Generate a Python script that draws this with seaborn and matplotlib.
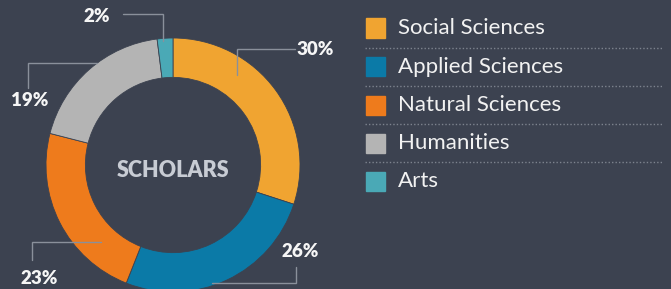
import matplotlib.pyplot as plt
import seaborn as sns

# chart data
categories = ["Social Sciences", "Applied Sciences", "Natural Sciences", "Humanities", "Arts"]
shares = [30, 26, 23, 19, 2]
colors = ["#f0a431", "#0b7aa7", "#ee7b1c", "#b4b4b4", "#4aa9b6"]
center_label = "SCHOLARS"

# leader layout in donut units: anchor -> elbow -> end, then label position
leaders = [
    ((0.50, 0.71), (0.50, 0.91), (0.96, 0.91), (1.12, 0.91)),
    ((0.31, -0.93), (0.97, -0.93), (0.97, -0.80), (1.00, -0.68)),
    ((-0.57, -0.61), (-1.11, -0.61), (-1.11, -0.75), (-1.05, -0.89)),
    ((-0.60, 0.80), (-1.14, 0.80), (-1.14, 0.61), (-1.13, 0.51)),
    ((-0.08, 0.98), (-0.08, 1.19), (-0.39, 1.19), (-0.60, 1.17)),
]

BG = "#3c4250"
LINE = "#8a909b"

sns.set_theme(style="dark", rc={"axes.facecolor": BG, "figure.facecolor": BG})
plt.rcParams["font.family"] = ["Lato", "DejaVu Sans"]

fig = plt.figure(figsize=(6.71, 2.89), dpi=100)
ax = fig.add_axes([0, 0, 1, 1])
ax.set_facecolor(BG)

wedges, _ = ax.pie(
    shares,
    colors=colors,
    startangle=90,
    counterclock=False,
    radius=1.0,
    wedgeprops=dict(width=0.31, edgecolor=BG, linewidth=0.6),
)

# figure is 671x289 px, donut centre at (173, 165) px, radius 127 px
ax.set_xlim(-173 / 127, (671 - 173) / 127)
ax.set_ylim(-124 / 127, 165 / 127)
ax.set_aspect("auto")
ax.axis("off")

ax.text(0, -0.04, center_label, ha="center", va="center", fontsize=15.5,
        fontweight="heavy", color="#c8ccd4")

for share, (a, b, c, lab) in zip(shares, leaders):
    ax.plot([a[0], b[0], c[0]], [a[1], b[1], c[1]], color=LINE, lw=1.0,
            solid_joinstyle="miter")
    ax.text(lab[0], lab[1], f"{share}%", ha="center", va="center", fontsize=13.5,
            fontweight="heavy", color="#f6f6f6")

# legend drawn in figure pixels
W, H = 671, 289
row_y = [28, 67, 105, 143, 181]
for i, (name, col) in enumerate(zip(categories, colors)):
    y = row_y[i]
    fig.patches.append(plt.Rectangle((366 / W, 1 - (y + 9.5) / H), 19 / W, 19 / H,
                                     transform=fig.transFigure, color=col))
    fig.text(398 / W, 1 - y / H, name, ha="left", va="center", fontsize=16,
             color="#f2f2f2")
    if i < len(categories) - 1:
        sep = (y + row_y[i + 1]) / 2
        fig.add_artist(plt.Line2D([365 / W, 663 / W], [1 - sep / H, 1 - sep / H],
                                  transform=fig.transFigure, color="#7d838e",
                                  lw=1.0, linestyle=(0, (1, 1.5))))

fig.savefig("out.png", dpi=100, facecolor=BG)
